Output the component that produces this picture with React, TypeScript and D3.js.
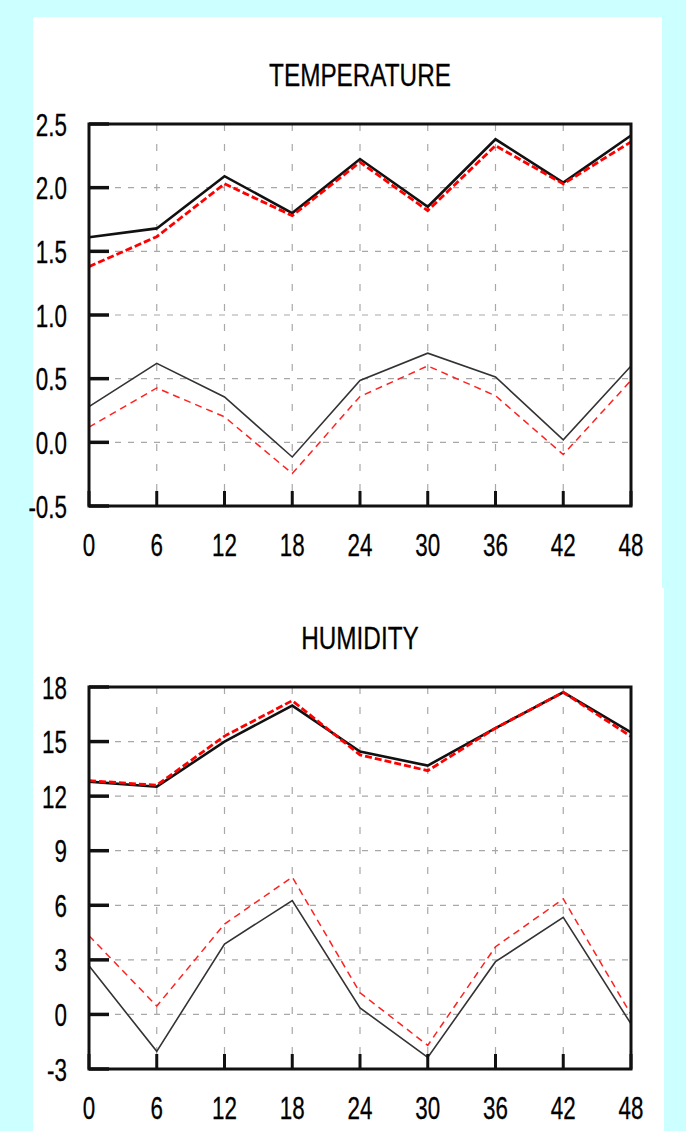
import React from 'react';
import * as d3 from 'd3';

// forecast hours on the x axis
const hours = [0, 6, 12, 18, 24, 30, 36, 42, 48];

// temperature panel
const tempTicks = [-0.5, 0, 0.5, 1.0, 1.5, 2.0, 2.5];
const tempUpperBlack = [1.61, 1.68, 2.09, 1.8, 2.225, 1.85, 2.38, 2.04, 2.41];
const tempUpperRed = [1.38, 1.615, 2.03, 1.78, 2.2, 1.82, 2.33, 2.03, 2.36];
const tempLowerBlack = [0.28, 0.62, 0.356, -0.115, 0.486, 0.7, 0.513, 0.02, 0.6];
const tempLowerRed = [0.12, 0.427, 0.2, -0.245, 0.36, 0.6, 0.366, -0.096, 0.486];

// humidity panel
const humTicks = [-3, 0, 3, 6, 9, 12, 15, 18];
const humUpperBlack = [12.8, 12.52, 15.0, 16.98, 14.45, 13.68, 15.74, 17.71, 15.5];
const humUpperRed = [12.85, 12.6, 15.3, 17.25, 14.27, 13.4, 15.74, 17.71, 15.28];
const humLowerBlack = [2.67, -2.03, 3.87, 6.26, 0.36, -2.36, 2.9, 5.34, -0.52];
const humLowerRed = [4.33, 0.46, 4.97, 7.55, 1.19, -1.7, 3.72, 6.35, 0.0];

const W = 686;
const H = 1131;
const FONT = '"Liberation Sans", Arial, sans-serif';
const SQUEEZE = 0.7;

function NarrowText({ x, y, anchor = 'middle', size = 32, sx = SQUEEZE, children }) {
  return (
    <text
      transform={`translate(${x},${y}) scale(${sx},1)`}
      textAnchor={anchor}
      fontFamily={FONT}
      fontSize={size}
      fill="#000"
      stroke="#000"
      strokeWidth={0.3}
    >
      {children}
    </text>
  );
}

function Panel({ title, top, bottom, ticks, fmt, series }) {
  const left = 89;
  const right = 631;
  const x = d3.scaleLinear().domain([0, 48]).range([left, right]);
  const y = d3.scaleLinear().domain([ticks[0], ticks[ticks.length - 1]]).range([bottom, top]);
  const line = d3
    .line<number>()
    .x((_, i) => x(hours[i]))
    .y((d) => y(d));

  return (
    <g>
      <NarrowText x={(left + right) / 2} y={top - 38} sx={0.76}>
        {title}
      </NarrowText>

      {/* grid */}
      {ticks.slice(1, -1).map((t) => (
        <line key={`hg-${t}`} x1={left} x2={right} y1={y(t)} y2={y(t)}
          stroke="#a8a8a8" strokeWidth={1.2} strokeDasharray="6,7" />
      ))}
      {hours.slice(1, -1).map((h) => (
        <line key={`vg-${h}`} x1={x(h)} x2={x(h)} y1={top} y2={bottom}
          stroke="#a8a8a8" strokeWidth={1.2} strokeDasharray="7,13" />
      ))}

      {/* series */}
      {series.map((s, i) => (
        <path key={i} d={line(s.values)} fill="none" stroke={s.color}
          strokeWidth={s.width} strokeDasharray={s.dash}
          strokeLinejoin="miter" />
      ))}

      {/* frame */}
      <rect x={left} y={top} width={right - left} height={bottom - top}
        fill="none" stroke="#111" strokeWidth={3} />

      {/* y ticks */}
      {ticks.map((t) => (
        <g key={`yt-${t}`}>
          <line x1={left} x2={left + 20} y1={y(t)} y2={y(t)} stroke="#111" strokeWidth={3.5} />
          <NarrowText x={67} y={y(t) + 11.5} anchor="end">{fmt(t)}</NarrowText>
        </g>
      ))}

      {/* x ticks */}
      {hours.map((h) => (
        <g key={`xt-${h}`}>
          <line x1={x(h)} x2={x(h)} y1={bottom} y2={bottom - 15} stroke="#111" strokeWidth={3} />
          <NarrowText x={x(h)} y={bottom + 50}>{h}</NarrowText>
        </g>
      ))}
    </g>
  );
}

export default function App() {
  const tempSeries = [
    { values: tempLowerRed, color: '#ff2020', width: 1.5, dash: '7,5' },
    { values: tempLowerBlack, color: '#333', width: 1.6, dash: undefined },
    { values: tempUpperBlack, color: '#111', width: 2.6, dash: undefined },
    { values: tempUpperRed, color: '#ff0000', width: 2.8, dash: '7,3' },
  ];
  const humSeries = [
    { values: humLowerRed, color: '#ff2020', width: 1.5, dash: '7,5' },
    { values: humLowerBlack, color: '#333', width: 1.6, dash: undefined },
    { values: humUpperBlack, color: '#111', width: 2.6, dash: undefined },
    { values: humUpperRed, color: '#ff0000', width: 2.8, dash: '7,3' },
  ];

  return (
    <div style={{ position: 'absolute', left: 0, top: 0, width: W, height: H }}>
      <svg width={W} height={H} viewBox={`0 0 ${W} ${H}`} style={{ display: 'block' }}>
        <rect x={0} y={0} width={W} height={H} fill="#ccffff" />
        <rect x={33} y={17} width={629} height={571} fill="#fff" />
        <rect x={33} y={588} width={631} height={H - 588} fill="#fff" />
        <Panel
          title="TEMPERATURE"
          top={124}
          bottom={506}
          ticks={tempTicks}
          fmt={(v) => v.toFixed(1)}
          series={tempSeries}
        />
        <Panel
          title="HUMIDITY"
          top={687}
          bottom={1069}
          ticks={humTicks}
          fmt={(v) => String(v)}
          series={humSeries}
        />
      </svg>
    </div>
  );
}
